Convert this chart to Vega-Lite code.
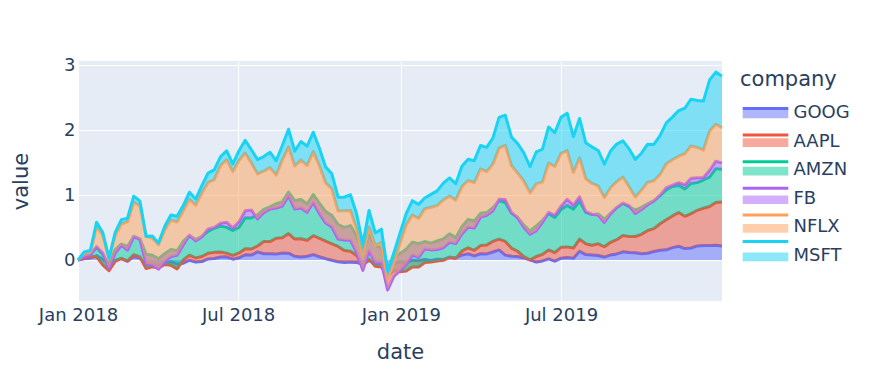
{
"$schema":"https://vega.github.io/schema/vega-lite/v6.json",
"width":644,"height":240,
"autosize":{"type":"none"},
"padding":{"left":78,"top":61,"right":168,"bottom":85},
"background":"white",
"data":{"values":[
{"date":"2018-01-01","company":"GOOG","value":0},{"date":"2018-01-01","company":"AAPL","value":0},{"date":"2018-01-01","company":"AMZN","value":0},{"date":"2018-01-01","company":"FB","value":0},{"date":"2018-01-01","company":"NFLX","value":0},{"date":"2018-01-01","company":"MSFT","value":0},
{"date":"2018-01-08","company":"GOOG","value":0.018},{"date":"2018-01-08","company":"AAPL","value":0.012},{"date":"2018-01-08","company":"AMZN","value":0.062},{"date":"2018-01-08","company":"FB","value":-0.04},{"date":"2018-01-08","company":"NFLX","value":0.054},{"date":"2018-01-08","company":"MSFT","value":0.016},
{"date":"2018-01-15","company":"GOOG","value":0.032},{"date":"2018-01-15","company":"AAPL","value":0.02},{"date":"2018-01-15","company":"AMZN","value":0.053},{"date":"2018-01-15","company":"FB","value":-0.03},{"date":"2018-01-15","company":"NFLX","value":0.05},{"date":"2018-01-15","company":"MSFT","value":0.021},
{"date":"2018-01-22","company":"GOOG","value":0.067},{"date":"2018-01-22","company":"AAPL","value":-0.02},{"date":"2018-01-22","company":"AMZN","value":0.141},{"date":"2018-01-22","company":"FB","value":0.017},{"date":"2018-01-22","company":"NFLX","value":0.308},{"date":"2018-01-22","company":"MSFT","value":0.067},
{"date":"2018-01-29","company":"GOOG","value":0.009},{"date":"2018-01-29","company":"AAPL","value":-0.083},{"date":"2018-01-29","company":"AMZN","value":0.163},{"date":"2018-01-29","company":"FB","value":0.018},{"date":"2018-01-29","company":"NFLX","value":0.274},{"date":"2018-01-29","company":"MSFT","value":0.041},
{"date":"2018-02-05","company":"GOOG","value":-0.058},{"date":"2018-02-05","company":"AAPL","value":-0.106},{"date":"2018-02-05","company":"AMZN","value":0.09},{"date":"2018-02-05","company":"FB","value":-0.057},{"date":"2018-02-05","company":"NFLX","value":0.157},{"date":"2018-02-05","company":"MSFT","value":0},
{"date":"2018-02-12","company":"GOOG","value":-0.007},{"date":"2018-02-12","company":"AAPL","value":-0.015},{"date":"2018-02-12","company":"AMZN","value":0.179},{"date":"2018-02-12","company":"FB","value":-0.051},{"date":"2018-02-12","company":"NFLX","value":0.27},{"date":"2018-02-12","company":"MSFT","value":0.043},
{"date":"2018-02-19","company":"GOOG","value":0.022},{"date":"2018-02-19","company":"AAPL","value":0.003},{"date":"2018-02-19","company":"AMZN","value":0.22},{"date":"2018-02-19","company":"FB","value":-0.019},{"date":"2018-02-19","company":"NFLX","value":0.327},{"date":"2018-02-19","company":"MSFT","value":0.067},
{"date":"2018-02-26","company":"GOOG","value":-0.021},{"date":"2018-02-26","company":"AAPL","value":0.007},{"date":"2018-02-26","company":"AMZN","value":0.221},{"date":"2018-02-26","company":"FB","value":-0.055},{"date":"2018-02-26","company":"NFLX","value":0.434},{"date":"2018-02-26","company":"MSFT","value":0.055},
{"date":"2018-03-05","company":"GOOG","value":0.052},{"date":"2018-03-05","company":"AAPL","value":0.028},{"date":"2018-03-05","company":"AMZN","value":0.285},{"date":"2018-03-05","company":"FB","value":-0.009},{"date":"2018-03-05","company":"NFLX","value":0.529},{"date":"2018-03-05","company":"MSFT","value":0.095},
{"date":"2018-03-12","company":"GOOG","value":0.029},{"date":"2018-03-12","company":"AAPL","value":0.017},{"date":"2018-03-12","company":"AMZN","value":0.279},{"date":"2018-03-12","company":"FB","value":-0.009},{"date":"2018-03-12","company":"NFLX","value":0.517},{"date":"2018-03-12","company":"MSFT","value":0.073},
{"date":"2018-03-19","company":"GOOG","value":-0.073},{"date":"2018-03-19","company":"AAPL","value":-0.057},{"date":"2018-03-19","company":"AMZN","value":0.217},{"date":"2018-03-19","company":"FB","value":-0.147},{"date":"2018-03-19","company":"NFLX","value":0.432},{"date":"2018-03-19","company":"MSFT","value":-0.011},
{"date":"2018-03-26","company":"GOOG","value":-0.064},{"date":"2018-03-26","company":"AAPL","value":-0.041},{"date":"2018-03-26","company":"AMZN","value":0.178},{"date":"2018-03-26","company":"FB","value":-0.145},{"date":"2018-03-26","company":"NFLX","value":0.406},{"date":"2018-03-26","company":"MSFT","value":0.035},
{"date":"2018-04-02","company":"GOOG","value":-0.086},{"date":"2018-04-02","company":"AAPL","value":-0.038},{"date":"2018-04-02","company":"AMZN","value":0.143},{"date":"2018-04-02","company":"FB","value":-0.159},{"date":"2018-04-02","company":"NFLX","value":0.376},{"date":"2018-04-02","company":"MSFT","value":0.023},
{"date":"2018-04-09","company":"GOOG","value":-0.066},{"date":"2018-04-09","company":"AAPL","value":-0.002},{"date":"2018-04-09","company":"AMZN","value":0.164},{"date":"2018-04-09","company":"FB","value":-0.12},{"date":"2018-04-09","company":"NFLX","value":0.484},{"date":"2018-04-09","company":"MSFT","value":0.055},
{"date":"2018-04-16","company":"GOOG","value":-0.027},{"date":"2018-04-16","company":"AAPL","value":-0.053},{"date":"2018-04-16","company":"AMZN","value":0.243},{"date":"2018-04-16","company":"FB","value":-0.11},{"date":"2018-04-16","company":"NFLX","value":0.561},{"date":"2018-04-16","company":"MSFT","value":0.077},
{"date":"2018-04-23","company":"GOOG","value":-0.065},{"date":"2018-04-23","company":"AAPL","value":-0.072},{"date":"2018-04-23","company":"AMZN","value":0.279},{"date":"2018-04-23","company":"FB","value":-0.068},{"date":"2018-04-23","company":"NFLX","value":0.51},{"date":"2018-04-23","company":"MSFT","value":0.087},
{"date":"2018-04-30","company":"GOOG","value":-0.049},{"date":"2018-04-30","company":"AAPL","value":0.05},{"date":"2018-04-30","company":"AMZN","value":0.286},{"date":"2018-04-30","company":"FB","value":-0.055},{"date":"2018-04-30","company":"NFLX","value":0.524},{"date":"2018-04-30","company":"MSFT","value":0.079},
{"date":"2018-05-07","company":"GOOG","value":-0.004},{"date":"2018-05-07","company":"AAPL","value":0.078},{"date":"2018-05-07","company":"AMZN","value":0.304},{"date":"2018-05-07","company":"FB","value":0.001},{"date":"2018-05-07","company":"NFLX","value":0.554},{"date":"2018-05-07","company":"MSFT","value":0.108},
{"date":"2018-05-14","company":"GOOG","value":-0.033},{"date":"2018-05-14","company":"AAPL","value":0.065},{"date":"2018-05-14","company":"AMZN","value":0.281},{"date":"2018-05-14","company":"FB","value":-0.02},{"date":"2018-05-14","company":"NFLX","value":0.549},{"date":"2018-05-14","company":"MSFT","value":0.093},
{"date":"2018-05-21","company":"GOOG","value":-0.024},{"date":"2018-05-21","company":"AAPL","value":0.078},{"date":"2018-05-21","company":"AMZN","value":0.31},{"date":"2018-05-21","company":"FB","value":-0.01},{"date":"2018-05-21","company":"NFLX","value":0.673},{"date":"2018-05-21","company":"MSFT","value":0.115},
{"date":"2018-05-28","company":"GOOG","value":0.016},{"date":"2018-05-28","company":"AAPL","value":0.087},{"date":"2018-05-28","company":"AMZN","value":0.336},{"date":"2018-05-28","company":"FB","value":0.038},{"date":"2018-05-28","company":"NFLX","value":0.714},{"date":"2018-05-28","company":"MSFT","value":0.143},
{"date":"2018-06-04","company":"GOOG","value":0.022},{"date":"2018-06-04","company":"AAPL","value":0.095},{"date":"2018-06-04","company":"AMZN","value":0.37},{"date":"2018-06-04","company":"FB","value":0.012},{"date":"2018-06-04","company":"NFLX","value":0.733},{"date":"2018-06-04","company":"MSFT","value":0.152},
{"date":"2018-06-11","company":"GOOG","value":0.045},{"date":"2018-06-11","company":"AAPL","value":0.079},{"date":"2018-06-11","company":"AMZN","value":0.396},{"date":"2018-06-11","company":"FB","value":0.044},{"date":"2018-06-11","company":"NFLX","value":0.885},{"date":"2018-06-11","company":"MSFT","value":0.135},
{"date":"2018-06-18","company":"GOOG","value":0.048},{"date":"2018-06-18","company":"AAPL","value":0.057},{"date":"2018-06-18","company":"AMZN","value":0.396},{"date":"2018-06-18","company":"FB","value":0.08},{"date":"2018-06-18","company":"NFLX","value":0.958},{"date":"2018-06-18","company":"MSFT","value":0.139},
{"date":"2018-06-25","company":"GOOG","value":0.012},{"date":"2018-06-25","company":"AAPL","value":0.058},{"date":"2018-06-25","company":"AMZN","value":0.383},{"date":"2018-06-25","company":"FB","value":0.04},{"date":"2018-06-25","company":"NFLX","value":0.864},{"date":"2018-06-25","company":"MSFT","value":0.118},
{"date":"2018-07-02","company":"GOOG","value":0.034},{"date":"2018-07-02","company":"AAPL","value":0.074},{"date":"2018-07-02","company":"AMZN","value":0.392},{"date":"2018-07-02","company":"FB","value":0.088},{"date":"2018-07-02","company":"NFLX","value":0.944},{"date":"2018-07-02","company":"MSFT","value":0.147},
{"date":"2018-07-09","company":"GOOG","value":0.079},{"date":"2018-07-09","company":"AAPL","value":0.093},{"date":"2018-07-09","company":"AMZN","value":0.475},{"date":"2018-07-09","company":"FB","value":0.11},{"date":"2018-07-09","company":"NFLX","value":0.885},{"date":"2018-07-09","company":"MSFT","value":0.195},
{"date":"2018-07-16","company":"GOOG","value":0.075},{"date":"2018-07-16","company":"AAPL","value":0.094},{"date":"2018-07-16","company":"AMZN","value":0.476},{"date":"2018-07-16","company":"FB","value":0.124},{"date":"2018-07-16","company":"NFLX","value":0.719},{"date":"2018-07-16","company":"MSFT","value":0.205},
{"date":"2018-07-23","company":"GOOG","value":0.124},{"date":"2018-07-23","company":"AAPL","value":0.091},{"date":"2018-07-23","company":"AMZN","value":0.478},{"date":"2018-07-23","company":"FB","value":-0.064},{"date":"2018-07-23","company":"NFLX","value":0.692},{"date":"2018-07-23","company":"MSFT","value":0.221},
{"date":"2018-07-30","company":"GOOG","value":0.096},{"date":"2018-07-30","company":"AAPL","value":0.189},{"date":"2018-07-30","company":"AMZN","value":0.492},{"date":"2018-07-30","company":"FB","value":-0.049},{"date":"2018-07-30","company":"NFLX","value":0.635},{"date":"2018-07-30","company":"MSFT","value":0.225},
{"date":"2018-08-06","company":"GOOG","value":0.096},{"date":"2018-08-06","company":"AAPL","value":0.186},{"date":"2018-08-06","company":"AMZN","value":0.535},{"date":"2018-08-06","company":"FB","value":-0.036},{"date":"2018-08-06","company":"NFLX","value":0.638},{"date":"2018-08-06","company":"MSFT","value":0.236},
{"date":"2018-08-13","company":"GOOG","value":0.09},{"date":"2018-08-13","company":"AAPL","value":0.243},{"date":"2018-08-13","company":"AMZN","value":0.531},{"date":"2018-08-13","company":"FB","value":-0.065},{"date":"2018-08-13","company":"NFLX","value":0.505},{"date":"2018-08-13","company":"MSFT","value":0.22},
{"date":"2018-08-20","company":"GOOG","value":0.108},{"date":"2018-08-20","company":"AAPL","value":0.235},{"date":"2018-08-20","company":"AMZN","value":0.55},{"date":"2018-08-20","company":"FB","value":-0.065},{"date":"2018-08-20","company":"NFLX","value":0.709},{"date":"2018-08-20","company":"MSFT","value":0.221},
{"date":"2018-08-27","company":"GOOG","value":0.105},{"date":"2018-08-27","company":"AAPL","value":0.301},{"date":"2018-08-27","company":"AMZN","value":0.637},{"date":"2018-08-27","company":"FB","value":-0.06},{"date":"2018-08-27","company":"NFLX","value":0.751},{"date":"2018-08-27","company":"MSFT","value":0.274},
{"date":"2018-09-03","company":"GOOG","value":0.057},{"date":"2018-09-03","company":"AAPL","value":0.265},{"date":"2018-09-03","company":"AMZN","value":0.588},{"date":"2018-09-03","company":"FB","value":-0.127},{"date":"2018-09-03","company":"NFLX","value":0.66},{"date":"2018-09-03","company":"MSFT","value":0.227},
{"date":"2018-09-10","company":"GOOG","value":0.047},{"date":"2018-09-10","company":"AAPL","value":0.279},{"date":"2018-09-10","company":"AMZN","value":0.603},{"date":"2018-09-10","company":"FB","value":-0.131},{"date":"2018-09-10","company":"NFLX","value":0.736},{"date":"2018-09-10","company":"MSFT","value":0.286},
{"date":"2018-09-17","company":"GOOG","value":0.058},{"date":"2018-09-17","company":"AAPL","value":0.244},{"date":"2018-09-17","company":"AMZN","value":0.558},{"date":"2018-09-17","company":"FB","value":-0.128},{"date":"2018-09-17","company":"NFLX","value":0.72},{"date":"2018-09-17","company":"MSFT","value":0.296},
{"date":"2018-09-24","company":"GOOG","value":0.083},{"date":"2018-09-24","company":"AAPL","value":0.29},{"date":"2018-09-24","company":"AMZN","value":0.63},{"date":"2018-09-24","company":"FB","value":-0.12},{"date":"2018-09-24","company":"NFLX","value":0.782},{"date":"2018-09-24","company":"MSFT","value":0.297},
{"date":"2018-10-01","company":"GOOG","value":0.05},{"date":"2018-10-01","company":"AAPL","value":0.282},{"date":"2018-10-01","company":"AMZN","value":0.537},{"date":"2018-10-01","company":"FB","value":-0.158},{"date":"2018-10-01","company":"NFLX","value":0.731},{"date":"2018-10-01","company":"MSFT","value":0.271},
{"date":"2018-10-08","company":"GOOG","value":0.02},{"date":"2018-10-08","company":"AAPL","value":0.269},{"date":"2018-10-08","company":"AMZN","value":0.455},{"date":"2018-10-08","company":"FB","value":-0.177},{"date":"2018-10-08","company":"NFLX","value":0.617},{"date":"2018-10-08","company":"MSFT","value":0.242},
{"date":"2018-10-15","company":"GOOG","value":-0.005},{"date":"2018-10-15","company":"AAPL","value":0.253},{"date":"2018-10-15","company":"AMZN","value":0.435},{"date":"2018-10-15","company":"FB","value":-0.176},{"date":"2018-10-15","company":"NFLX","value":0.584},{"date":"2018-10-15","company":"MSFT","value":0.232},
{"date":"2018-10-22","company":"GOOG","value":-0.028},{"date":"2018-10-22","company":"AAPL","value":0.236},{"date":"2018-10-22","company":"AMZN","value":0.337},{"date":"2018-10-22","company":"FB","value":-0.222},{"date":"2018-10-22","company":"NFLX","value":0.428},{"date":"2018-10-22","company":"MSFT","value":0.213},
{"date":"2018-10-29","company":"GOOG","value":-0.04},{"date":"2018-10-29","company":"AAPL","value":0.186},{"date":"2018-10-29","company":"AMZN","value":0.355},{"date":"2018-10-29","company":"FB","value":-0.195},{"date":"2018-10-29","company":"NFLX","value":0.45},{"date":"2018-10-29","company":"MSFT","value":0.208},
{"date":"2018-11-05","company":"GOOG","value":-0.033},{"date":"2018-11-05","company":"AAPL","value":0.168},{"date":"2018-11-05","company":"AMZN","value":0.393},{"date":"2018-11-05","company":"FB","value":-0.224},{"date":"2018-11-05","company":"NFLX","value":0.456},{"date":"2018-11-05","company":"MSFT","value":0.242},
{"date":"2018-11-12","company":"GOOG","value":-0.037},{"date":"2018-11-12","company":"AAPL","value":0.106},{"date":"2018-11-12","company":"AMZN","value":0.296},{"date":"2018-11-12","company":"FB","value":-0.253},{"date":"2018-11-12","company":"NFLX","value":0.365},{"date":"2018-11-12","company":"MSFT","value":0.228},
{"date":"2018-11-19","company":"GOOG","value":-0.071},{"date":"2018-11-19","company":"AAPL","value":-0.015},{"date":"2018-11-19","company":"AMZN","value":0.222},{"date":"2018-11-19","company":"FB","value":-0.295},{"date":"2018-11-19","company":"NFLX","value":0.233},{"date":"2018-11-19","company":"MSFT","value":0.169},
{"date":"2018-11-26","company":"GOOG","value":-0.007},{"date":"2018-11-26","company":"AAPL","value":0.02},{"date":"2018-11-26","company":"AMZN","value":0.375},{"date":"2018-11-26","company":"FB","value":-0.247},{"date":"2018-11-26","company":"NFLX","value":0.363},{"date":"2018-11-26","company":"MSFT","value":0.257},
{"date":"2018-12-03","company":"GOOG","value":-0.06},{"date":"2018-12-03","company":"AAPL","value":-0.037},{"date":"2018-12-03","company":"AMZN","value":0.325},{"date":"2018-12-03","company":"FB","value":-0.265},{"date":"2018-12-03","company":"NFLX","value":0.263},{"date":"2018-12-03","company":"MSFT","value":0.189},
{"date":"2018-12-10","company":"GOOG","value":-0.055},{"date":"2018-12-10","company":"AAPL","value":-0.054},{"date":"2018-12-10","company":"AMZN","value":0.295},{"date":"2018-12-10","company":"FB","value":-0.229},{"date":"2018-12-10","company":"NFLX","value":0.314},{"date":"2018-12-10","company":"MSFT","value":0.202},
{"date":"2018-12-17","company":"GOOG","value":-0.111},{"date":"2018-12-17","company":"AAPL","value":-0.139},{"date":"2018-12-17","company":"AMZN","value":0.121},{"date":"2018-12-17","company":"FB","value":-0.331},{"date":"2018-12-17","company":"NFLX","value":0.173},{"date":"2018-12-17","company":"MSFT","value":0.114},
{"date":"2018-12-24","company":"GOOG","value":-0.059},{"date":"2018-12-24","company":"AAPL","value":-0.107},{"date":"2018-12-24","company":"AMZN","value":0.202},{"date":"2018-12-24","company":"FB","value":-0.287},{"date":"2018-12-24","company":"NFLX","value":0.219},{"date":"2018-12-24","company":"MSFT","value":0.138},
{"date":"2018-12-31","company":"GOOG","value":-0.029},{"date":"2018-12-31","company":"AAPL","value":-0.153},{"date":"2018-12-31","company":"AMZN","value":0.282},{"date":"2018-12-31","company":"FB","value":-0.261},{"date":"2018-12-31","company":"NFLX","value":0.417},{"date":"2018-12-31","company":"MSFT","value":0.156},
{"date":"2019-01-07","company":"GOOG","value":-0.041},{"date":"2019-01-07","company":"AAPL","value":-0.13},{"date":"2019-01-07","company":"AMZN","value":0.335},{"date":"2019-01-07","company":"FB","value":-0.228},{"date":"2019-01-07","company":"NFLX","value":0.608},{"date":"2019-01-07","company":"MSFT","value":0.166},
{"date":"2019-01-14","company":"GOOG","value":-0.004},{"date":"2019-01-14","company":"AAPL","value":-0.104},{"date":"2019-01-14","company":"AMZN","value":0.38},{"date":"2019-01-14","company":"FB","value":-0.197},{"date":"2019-01-14","company":"NFLX","value":0.615},{"date":"2019-01-14","company":"MSFT","value":0.221},
{"date":"2019-01-21","company":"GOOG","value":-0.01},{"date":"2019-01-21","company":"AAPL","value":-0.099},{"date":"2019-01-21","company":"AMZN","value":0.359},{"date":"2019-01-21","company":"FB","value":-0.211},{"date":"2019-01-21","company":"NFLX","value":0.6},{"date":"2019-01-21","company":"MSFT","value":0.215},
{"date":"2019-01-28","company":"GOOG","value":0.008},{"date":"2019-01-28","company":"AAPL","value":-0.048},{"date":"2019-01-28","company":"AMZN","value":0.323},{"date":"2019-01-28","company":"FB","value":-0.113},{"date":"2019-01-28","company":"NFLX","value":0.618},{"date":"2019-01-28","company":"MSFT","value":0.165},
{"date":"2019-02-04","company":"GOOG","value":-0.007},{"date":"2019-02-04","company":"AAPL","value":-0.026},{"date":"2019-02-04","company":"AMZN","value":0.292},{"date":"2019-02-04","company":"FB","value":-0.104},{"date":"2019-02-04","company":"NFLX","value":0.655},{"date":"2019-02-04","company":"MSFT","value":0.198},
{"date":"2019-02-11","company":"GOOG","value":0.01},{"date":"2019-02-11","company":"AAPL","value":-0.026},{"date":"2019-02-11","company":"AMZN","value":0.308},{"date":"2019-02-11","company":"FB","value":-0.13},{"date":"2019-02-11","company":"NFLX","value":0.673},{"date":"2019-02-11","company":"MSFT","value":0.227},
{"date":"2019-02-18","company":"GOOG","value":0.007},{"date":"2019-02-18","company":"AAPL","value":-0.012},{"date":"2019-02-18","company":"AMZN","value":0.327},{"date":"2019-02-18","company":"FB","value":-0.134},{"date":"2019-02-18","company":"NFLX","value":0.734},{"date":"2019-02-18","company":"MSFT","value":0.258},
{"date":"2019-02-25","company":"GOOG","value":0.042},{"date":"2019-02-25","company":"AAPL","value":0},{"date":"2019-02-25","company":"AMZN","value":0.36},{"date":"2019-02-25","company":"FB","value":-0.131},{"date":"2019-02-25","company":"NFLX","value":0.713},{"date":"2019-02-25","company":"MSFT","value":0.276},
{"date":"2019-03-04","company":"GOOG","value":0.036},{"date":"2019-03-04","company":"AAPL","value":-0.012},{"date":"2019-03-04","company":"AMZN","value":0.319},{"date":"2019-03-04","company":"FB","value":-0.092},{"date":"2019-03-04","company":"NFLX","value":0.668},{"date":"2019-03-04","company":"MSFT","value":0.253},
{"date":"2019-03-11","company":"GOOG","value":0.075},{"date":"2019-03-11","company":"AAPL","value":0.064},{"date":"2019-03-11","company":"AMZN","value":0.372},{"date":"2019-03-11","company":"FB","value":-0.112},{"date":"2019-03-11","company":"NFLX","value":0.727},{"date":"2019-03-11","company":"MSFT","value":0.314},
{"date":"2019-03-18","company":"GOOG","value":0.094},{"date":"2019-03-18","company":"AAPL","value":0.092},{"date":"2019-03-18","company":"AMZN","value":0.436},{"date":"2019-03-18","company":"FB","value":-0.12},{"date":"2019-03-18","company":"NFLX","value":0.719},{"date":"2019-03-18","company":"MSFT","value":0.327},
{"date":"2019-03-25","company":"GOOG","value":0.064},{"date":"2019-03-25","company":"AAPL","value":0.085},{"date":"2019-03-25","company":"AMZN","value":0.449},{"date":"2019-03-25","company":"FB","value":-0.108},{"date":"2019-03-25","company":"NFLX","value":0.698},{"date":"2019-03-25","company":"MSFT","value":0.337},
{"date":"2019-04-01","company":"GOOG","value":0.095},{"date":"2019-04-01","company":"AAPL","value":0.126},{"date":"2019-04-01","company":"AMZN","value":0.495},{"date":"2019-04-01","company":"FB","value":-0.058},{"date":"2019-04-01","company":"NFLX","value":0.741},{"date":"2019-04-01","company":"MSFT","value":0.359},
{"date":"2019-04-08","company":"GOOG","value":0.093},{"date":"2019-04-08","company":"AAPL","value":0.136},{"date":"2019-04-08","company":"AMZN","value":0.499},{"date":"2019-04-08","company":"FB","value":-0.041},{"date":"2019-04-08","company":"NFLX","value":0.672},{"date":"2019-04-08","company":"MSFT","value":0.371},
{"date":"2019-04-15","company":"GOOG","value":0.122},{"date":"2019-04-15","company":"AAPL","value":0.165},{"date":"2019-04-15","company":"AMZN","value":0.515},{"date":"2019-04-15","company":"FB","value":-0.046},{"date":"2019-04-15","company":"NFLX","value":0.716},{"date":"2019-04-15","company":"MSFT","value":0.399},
{"date":"2019-04-22","company":"GOOG","value":0.154},{"date":"2019-04-22","company":"AAPL","value":0.167},{"date":"2019-04-22","company":"AMZN","value":0.587},{"date":"2019-04-22","company":"FB","value":0.025},{"date":"2019-04-22","company":"NFLX","value":0.785},{"date":"2019-04-22","company":"MSFT","value":0.473},
{"date":"2019-04-29","company":"GOOG","value":0.075},{"date":"2019-04-29","company":"AAPL","value":0.21},{"date":"2019-04-29","company":"AMZN","value":0.597},{"date":"2019-04-29","company":"FB","value":0.046},{"date":"2019-04-29","company":"NFLX","value":0.834},{"date":"2019-04-29","company":"MSFT","value":0.462},
{"date":"2019-05-06","company":"GOOG","value":0.056},{"date":"2019-05-06","company":"AAPL","value":0.127},{"date":"2019-05-06","company":"AMZN","value":0.538},{"date":"2019-05-06","company":"FB","value":0.008},{"date":"2019-05-06","company":"NFLX","value":0.719},{"date":"2019-05-06","company":"MSFT","value":0.442},
{"date":"2019-05-13","company":"GOOG","value":0.054},{"date":"2019-05-13","company":"AAPL","value":0.08},{"date":"2019-05-13","company":"AMZN","value":0.521},{"date":"2019-05-13","company":"FB","value":-0.008},{"date":"2019-05-13","company":"NFLX","value":0.688},{"date":"2019-05-13","company":"MSFT","value":0.452},
{"date":"2019-05-20","company":"GOOG","value":0.028},{"date":"2019-05-20","company":"AAPL","value":0.023},{"date":"2019-05-20","company":"AMZN","value":0.483},{"date":"2019-05-20","company":"FB","value":-0.031},{"date":"2019-05-20","company":"NFLX","value":0.71},{"date":"2019-05-20","company":"MSFT","value":0.431},
{"date":"2019-05-27","company":"GOOG","value":0.001},{"date":"2019-05-27","company":"AAPL","value":0},{"date":"2019-05-27","company":"AMZN","value":0.444},{"date":"2019-05-27","company":"FB","value":-0.05},{"date":"2019-05-27","company":"NFLX","value":0.635},{"date":"2019-05-27","company":"MSFT","value":0.402},
{"date":"2019-06-03","company":"GOOG","value":-0.033},{"date":"2019-06-03","company":"AAPL","value":0.087},{"date":"2019-06-03","company":"AMZN","value":0.468},{"date":"2019-06-03","company":"FB","value":-0.072},{"date":"2019-06-03","company":"NFLX","value":0.719},{"date":"2019-06-03","company":"MSFT","value":0.49},
{"date":"2019-06-10","company":"GOOG","value":-0.015},{"date":"2019-06-10","company":"AAPL","value":0.101},{"date":"2019-06-10","company":"AMZN","value":0.522},{"date":"2019-06-10","company":"FB","value":-0.03},{"date":"2019-06-10","company":"NFLX","value":0.618},{"date":"2019-06-10","company":"MSFT","value":0.502},
{"date":"2019-06-17","company":"GOOG","value":0.018},{"date":"2019-06-17","company":"AAPL","value":0.136},{"date":"2019-06-17","company":"AMZN","value":0.555},{"date":"2019-06-17","company":"FB","value":0.023},{"date":"2019-06-17","company":"NFLX","value":0.758},{"date":"2019-06-17","company":"MSFT","value":0.553},
{"date":"2019-06-24","company":"GOOG","value":-0.019},{"date":"2019-06-24","company":"AAPL","value":0.131},{"date":"2019-06-24","company":"AMZN","value":0.541},{"date":"2019-06-24","company":"FB","value":0.033},{"date":"2019-06-24","company":"NFLX","value":0.749},{"date":"2019-06-24","company":"MSFT","value":0.519},
{"date":"2019-07-01","company":"GOOG","value":0.027},{"date":"2019-07-01","company":"AAPL","value":0.167},{"date":"2019-07-01","company":"AMZN","value":0.581},{"date":"2019-07-01","company":"FB","value":0.051},{"date":"2019-07-01","company":"NFLX","value":0.812},{"date":"2019-07-01","company":"MSFT","value":0.554},
{"date":"2019-07-08","company":"GOOG","value":0.039},{"date":"2019-07-08","company":"AAPL","value":0.162},{"date":"2019-07-08","company":"AMZN","value":0.636},{"date":"2019-07-08","company":"FB","value":0.096},{"date":"2019-07-08","company":"NFLX","value":0.746},{"date":"2019-07-08","company":"MSFT","value":0.575},
{"date":"2019-07-15","company":"GOOG","value":0.025},{"date":"2019-07-15","company":"AAPL","value":0.158},{"date":"2019-07-15","company":"AMZN","value":0.598},{"date":"2019-07-15","company":"FB","value":0.062},{"date":"2019-07-15","company":"NFLX","value":0.501},{"date":"2019-07-15","company":"MSFT","value":0.549},
{"date":"2019-07-22","company":"GOOG","value":0.134},{"date":"2019-07-22","company":"AAPL","value":0.187},{"date":"2019-07-22","company":"AMZN","value":0.581},{"date":"2019-07-22","company":"FB","value":0.069},{"date":"2019-07-22","company":"NFLX","value":0.599},{"date":"2019-07-22","company":"MSFT","value":0.603},
{"date":"2019-07-29","company":"GOOG","value":0.083},{"date":"2019-07-29","company":"AAPL","value":0.166},{"date":"2019-07-29","company":"AMZN","value":0.483},{"date":"2019-07-29","company":"FB","value":0.012},{"date":"2019-07-29","company":"NFLX","value":0.504},{"date":"2019-07-29","company":"MSFT","value":0.552},
{"date":"2019-08-05","company":"GOOG","value":0.078},{"date":"2019-08-05","company":"AAPL","value":0.149},{"date":"2019-08-05","company":"AMZN","value":0.471},{"date":"2019-08-05","company":"FB","value":0.005},{"date":"2019-08-05","company":"NFLX","value":0.472},{"date":"2019-08-05","company":"MSFT","value":0.562},
{"date":"2019-08-12","company":"GOOG","value":0.068},{"date":"2019-08-12","company":"AAPL","value":0.18},{"date":"2019-08-12","company":"AMZN","value":0.458},{"date":"2019-08-12","company":"FB","value":-0.017},{"date":"2019-08-12","company":"NFLX","value":0.449},{"date":"2019-08-12","company":"MSFT","value":0.544},
{"date":"2019-08-19","company":"GOOG","value":0.045},{"date":"2019-08-19","company":"AAPL","value":0.158},{"date":"2019-08-19","company":"AMZN","value":0.423},{"date":"2019-08-19","company":"FB","value":-0.049},{"date":"2019-08-19","company":"NFLX","value":0.383},{"date":"2019-08-19","company":"MSFT","value":0.513},
{"date":"2019-08-26","company":"GOOG","value":0.078},{"date":"2019-08-26","company":"AAPL","value":0.193},{"date":"2019-08-26","company":"AMZN","value":0.445},{"date":"2019-08-26","company":"FB","value":-0.006},{"date":"2019-08-26","company":"NFLX","value":0.399},{"date":"2019-08-26","company":"MSFT","value":0.563},
{"date":"2019-09-02","company":"GOOG","value":0.093},{"date":"2019-09-02","company":"AAPL","value":0.219},{"date":"2019-09-02","company":"AMZN","value":0.492},{"date":"2019-09-02","company":"FB","value":0.003},{"date":"2019-09-02","company":"NFLX","value":0.396},{"date":"2019-09-02","company":"MSFT","value":0.577},
{"date":"2019-09-09","company":"GOOG","value":0.125},{"date":"2019-09-09","company":"AAPL","value":0.25},{"date":"2019-09-09","company":"AMZN","value":0.496},{"date":"2019-09-09","company":"FB","value":0.002},{"date":"2019-09-09","company":"NFLX","value":0.4},{"date":"2019-09-09","company":"MSFT","value":0.557},
{"date":"2019-09-16","company":"GOOG","value":0.116},{"date":"2019-09-16","company":"AAPL","value":0.244},{"date":"2019-09-16","company":"AMZN","value":0.46},{"date":"2019-09-16","company":"FB","value":0.016},{"date":"2019-09-16","company":"NFLX","value":0.289},{"date":"2019-09-16","company":"MSFT","value":0.581},
{"date":"2019-09-23","company":"GOOG","value":0.111},{"date":"2019-09-23","company":"AAPL","value":0.25},{"date":"2019-09-23","company":"AMZN","value":0.404},{"date":"2019-09-23","company":"FB","value":-0.052},{"date":"2019-09-23","company":"NFLX","value":0.253},{"date":"2019-09-23","company":"MSFT","value":0.579},
{"date":"2019-09-30","company":"GOOG","value":0.097},{"date":"2019-09-30","company":"AAPL","value":0.297},{"date":"2019-09-30","company":"AMZN","value":0.415},{"date":"2019-09-30","company":"FB","value":-0.034},{"date":"2019-09-30","company":"NFLX","value":0.299},{"date":"2019-09-30","company":"MSFT","value":0.566},
{"date":"2019-10-07","company":"GOOG","value":0.103},{"date":"2019-10-07","company":"AAPL","value":0.35},{"date":"2019-10-07","company":"AMZN","value":0.409},{"date":"2019-10-07","company":"FB","value":-0.014},{"date":"2019-10-07","company":"NFLX","value":0.347},{"date":"2019-10-07","company":"MSFT","value":0.584},
{"date":"2019-10-14","company":"GOOG","value":0.13},{"date":"2019-10-14","company":"AAPL","value":0.351},{"date":"2019-10-14","company":"AMZN","value":0.43},{"date":"2019-10-14","company":"FB","value":-0.005},{"date":"2019-10-14","company":"NFLX","value":0.311},{"date":"2019-10-14","company":"MSFT","value":0.558},
{"date":"2019-10-21","company":"GOOG","value":0.148},{"date":"2019-10-21","company":"AAPL","value":0.409},{"date":"2019-10-21","company":"AMZN","value":0.433},{"date":"2019-10-21","company":"FB","value":0.006},{"date":"2019-10-21","company":"NFLX","value":0.318},{"date":"2019-10-21","company":"MSFT","value":0.596},
{"date":"2019-10-28","company":"GOOG","value":0.156},{"date":"2019-10-28","company":"AAPL","value":0.462},{"date":"2019-10-28","company":"AMZN","value":0.457},{"date":"2019-10-28","company":"FB","value":0.036},{"date":"2019-10-28","company":"NFLX","value":0.366},{"date":"2019-10-28","company":"MSFT","value":0.63},
{"date":"2019-11-04","company":"GOOG","value":0.19},{"date":"2019-11-04","company":"AAPL","value":0.487},{"date":"2019-11-04","company":"AMZN","value":0.453},{"date":"2019-11-04","company":"FB","value":0.021},{"date":"2019-11-04","company":"NFLX","value":0.388},{"date":"2019-11-04","company":"MSFT","value":0.655},
{"date":"2019-11-11","company":"GOOG","value":0.211},{"date":"2019-11-11","company":"AAPL","value":0.519},{"date":"2019-11-11","company":"AMZN","value":0.415},{"date":"2019-11-11","company":"FB","value":0.044},{"date":"2019-11-11","company":"NFLX","value":0.405},{"date":"2019-11-11","company":"MSFT","value":0.701},
{"date":"2019-11-18","company":"GOOG","value":0.175},{"date":"2019-11-18","company":"AAPL","value":0.496},{"date":"2019-11-18","company":"AMZN","value":0.42},{"date":"2019-11-18","company":"FB","value":0.064},{"date":"2019-11-18","company":"NFLX","value":0.479},{"date":"2019-11-18","company":"MSFT","value":0.696},
{"date":"2019-11-25","company":"GOOG","value":0.184},{"date":"2019-11-25","company":"AAPL","value":0.527},{"date":"2019-11-25","company":"AMZN","value":0.465},{"date":"2019-11-25","company":"FB","value":0.079},{"date":"2019-11-25","company":"NFLX","value":0.498},{"date":"2019-11-25","company":"MSFT","value":0.717},
{"date":"2019-12-02","company":"GOOG","value":0.216},{"date":"2019-12-02","company":"AAPL","value":0.547},{"date":"2019-12-02","company":"AMZN","value":0.425},{"date":"2019-12-02","company":"FB","value":0.076},{"date":"2019-12-02","company":"NFLX","value":0.464},{"date":"2019-12-02","company":"MSFT","value":0.721},
{"date":"2019-12-09","company":"GOOG","value":0.223},{"date":"2019-12-09","company":"AAPL","value":0.572},{"date":"2019-12-09","company":"AMZN","value":0.433},{"date":"2019-12-09","company":"FB","value":0.039},{"date":"2019-12-09","company":"NFLX","value":0.421},{"date":"2019-12-09","company":"MSFT","value":0.752},
{"date":"2019-12-16","company":"GOOG","value":0.224},{"date":"2019-12-16","company":"AAPL","value":0.597},{"date":"2019-12-16","company":"AMZN","value":0.453},{"date":"2019-12-16","company":"FB","value":0.104},{"date":"2019-12-16","company":"NFLX","value":0.604},{"date":"2019-12-16","company":"MSFT","value":0.785},
{"date":"2019-12-23","company":"GOOG","value":0.226},{"date":"2019-12-23","company":"AAPL","value":0.656},{"date":"2019-12-23","company":"AMZN","value":0.521},{"date":"2019-12-23","company":"FB","value":0.114},{"date":"2019-12-23","company":"NFLX","value":0.567},{"date":"2019-12-23","company":"MSFT","value":0.802},
{"date":"2019-12-30","company":"GOOG","value":0.213},{"date":"2019-12-30","company":"AAPL","value":0.678},{"date":"2019-12-30","company":"AMZN","value":0.503},{"date":"2019-12-30","company":"FB","value":0.098},{"date":"2019-12-30","company":"NFLX","value":0.541},{"date":"2019-12-30","company":"MSFT","value":0.788}
]},
"transform":[
{"calculate":"indexof(['GOOG','AAPL','AMZN','FB','NFLX','MSFT'], datum.company)","as":"rank"},
{"window":[{"op":"sum","field":"value","as":"cum"}],"groupby":["date"],"sort":[{"field":"rank","order":"ascending"}],"frame":[null,0]},
{"calculate":"datum.cum - datum.value","as":"base"}
],
"encoding":{
"x":{"field":"date","type":"temporal","scale":{"type":"utc","domain":[{"year":2018,"month":1,"date":1,"utc":true},{"year":2019,"month":12,"date":30,"utc":true}]},
"axis":{"values":[{"year":2018,"month":1,"date":1,"utc":true},{"year":2018,"month":7,"date":1,"utc":true},{"year":2019,"month":1,"date":1,"utc":true},{"year":2019,"month":7,"date":1,"utc":true}],"format":"%b %Y","title":"date","labelFlush":false,"labelOverlap":false,"labelBound":false,"labelPadding":5,"titleX":322,"titleY":51,"titleBaseline":"middle","titleAlign":"center"}},
"y":{"field":"cum","type":"quantitative","scale":{"domain":[-0.63,3.056],"nice":false,"zero":false},
"axis":{"values":[0,1,2,3],"title":"value","labelPadding":3,"labelOffset":1,"titleX":-57,"titleY":120,"titleAngle":-90,"titleBaseline":"middle","titleAlign":"center"}}
},
"layer":[
{"transform":[{"filter":"datum.company==='GOOG'"}],"layer":[
{"mark":{"type":"area","fillOpacity":0.5,"strokeWidth":0},"encoding":{"y2":{"field":"base"},"fill":{"field":"company","type":"nominal","scale":{"domain":["GOOG","AAPL","AMZN","FB","NFLX","MSFT"],"range":["#636efa","#EF553B","#00cc96","#ab63fa","#FFA15A","#19d3f3"]},"legend":{"title":"company","orient":"none","legendX":662,"legendY":8,"values":["GOOG","AAPL","AMZN","FB","NFLX","MSFT"],"symbolType":"M-4.56,-0.68H4.56V1.06H-4.56Z","symbolOpacity":0.5,"symbolStrokeColor":"transparent"}}}},
{"mark":{"type":"line","strokeWidth":3,"strokeJoin":"round"},"encoding":{"stroke":{"field":"company","type":"nominal","scale":{"domain":["GOOG","AAPL","AMZN","FB","NFLX","MSFT","~"],"range":["#636efa","#EF553B","#00cc96","#ab63fa","#FFA15A","#19d3f3","#000000"]},"legend":{"title":" ","orient":"none","legendX":662,"legendY":8,"values":["GOOG","AAPL","AMZN","FB","NFLX","MSFT"],"labelExpr":"' '","symbolType":"M-4.56,-0.9H4.56","symbolOpacity":1}}}}
]},
{"transform":[{"filter":"datum.company==='AAPL'"}],"layer":[
{"mark":{"type":"area","fillOpacity":0.5,"strokeWidth":0},"encoding":{"y2":{"field":"base"},"fill":{"field":"company","type":"nominal","scale":{"domain":["GOOG","AAPL","AMZN","FB","NFLX","MSFT"],"range":["#636efa","#EF553B","#00cc96","#ab63fa","#FFA15A","#19d3f3"]},"legend":{"title":"company","orient":"none","legendX":662,"legendY":8,"values":["GOOG","AAPL","AMZN","FB","NFLX","MSFT"],"symbolType":"M-4.56,-0.68H4.56V1.06H-4.56Z","symbolOpacity":0.5,"symbolStrokeColor":"transparent"}}}},
{"mark":{"type":"line","strokeWidth":3,"strokeJoin":"round"},"encoding":{"stroke":{"field":"company","type":"nominal","scale":{"domain":["GOOG","AAPL","AMZN","FB","NFLX","MSFT","~"],"range":["#636efa","#EF553B","#00cc96","#ab63fa","#FFA15A","#19d3f3","#000000"]},"legend":{"title":" ","orient":"none","legendX":662,"legendY":8,"values":["GOOG","AAPL","AMZN","FB","NFLX","MSFT"],"labelExpr":"' '","symbolType":"M-4.56,-0.9H4.56","symbolOpacity":1}}}}
]},
{"transform":[{"filter":"datum.company==='AMZN'"}],"layer":[
{"mark":{"type":"area","fillOpacity":0.5,"strokeWidth":0},"encoding":{"y2":{"field":"base"},"fill":{"field":"company","type":"nominal","scale":{"domain":["GOOG","AAPL","AMZN","FB","NFLX","MSFT"],"range":["#636efa","#EF553B","#00cc96","#ab63fa","#FFA15A","#19d3f3"]},"legend":{"title":"company","orient":"none","legendX":662,"legendY":8,"values":["GOOG","AAPL","AMZN","FB","NFLX","MSFT"],"symbolType":"M-4.56,-0.68H4.56V1.06H-4.56Z","symbolOpacity":0.5,"symbolStrokeColor":"transparent"}}}},
{"mark":{"type":"line","strokeWidth":3,"strokeJoin":"round"},"encoding":{"stroke":{"field":"company","type":"nominal","scale":{"domain":["GOOG","AAPL","AMZN","FB","NFLX","MSFT","~"],"range":["#636efa","#EF553B","#00cc96","#ab63fa","#FFA15A","#19d3f3","#000000"]},"legend":{"title":" ","orient":"none","legendX":662,"legendY":8,"values":["GOOG","AAPL","AMZN","FB","NFLX","MSFT"],"labelExpr":"' '","symbolType":"M-4.56,-0.9H4.56","symbolOpacity":1}}}}
]},
{"transform":[{"filter":"datum.company==='FB'"}],"layer":[
{"mark":{"type":"area","fillOpacity":0.5,"strokeWidth":0},"encoding":{"y2":{"field":"base"},"fill":{"field":"company","type":"nominal","scale":{"domain":["GOOG","AAPL","AMZN","FB","NFLX","MSFT"],"range":["#636efa","#EF553B","#00cc96","#ab63fa","#FFA15A","#19d3f3"]},"legend":{"title":"company","orient":"none","legendX":662,"legendY":8,"values":["GOOG","AAPL","AMZN","FB","NFLX","MSFT"],"symbolType":"M-4.56,-0.68H4.56V1.06H-4.56Z","symbolOpacity":0.5,"symbolStrokeColor":"transparent"}}}},
{"mark":{"type":"line","strokeWidth":3,"strokeJoin":"round"},"encoding":{"stroke":{"field":"company","type":"nominal","scale":{"domain":["GOOG","AAPL","AMZN","FB","NFLX","MSFT","~"],"range":["#636efa","#EF553B","#00cc96","#ab63fa","#FFA15A","#19d3f3","#000000"]},"legend":{"title":" ","orient":"none","legendX":662,"legendY":8,"values":["GOOG","AAPL","AMZN","FB","NFLX","MSFT"],"labelExpr":"' '","symbolType":"M-4.56,-0.9H4.56","symbolOpacity":1}}}}
]},
{"transform":[{"filter":"datum.company==='NFLX'"}],"layer":[
{"mark":{"type":"area","fillOpacity":0.5,"strokeWidth":0},"encoding":{"y2":{"field":"base"},"fill":{"field":"company","type":"nominal","scale":{"domain":["GOOG","AAPL","AMZN","FB","NFLX","MSFT"],"range":["#636efa","#EF553B","#00cc96","#ab63fa","#FFA15A","#19d3f3"]},"legend":{"title":"company","orient":"none","legendX":662,"legendY":8,"values":["GOOG","AAPL","AMZN","FB","NFLX","MSFT"],"symbolType":"M-4.56,-0.68H4.56V1.06H-4.56Z","symbolOpacity":0.5,"symbolStrokeColor":"transparent"}}}},
{"mark":{"type":"line","strokeWidth":3,"strokeJoin":"round"},"encoding":{"stroke":{"field":"company","type":"nominal","scale":{"domain":["GOOG","AAPL","AMZN","FB","NFLX","MSFT","~"],"range":["#636efa","#EF553B","#00cc96","#ab63fa","#FFA15A","#19d3f3","#000000"]},"legend":{"title":" ","orient":"none","legendX":662,"legendY":8,"values":["GOOG","AAPL","AMZN","FB","NFLX","MSFT"],"labelExpr":"' '","symbolType":"M-4.56,-0.9H4.56","symbolOpacity":1}}}}
]},
{"transform":[{"filter":"datum.company==='MSFT'"}],"layer":[
{"mark":{"type":"area","fillOpacity":0.5,"strokeWidth":0},"encoding":{"y2":{"field":"base"},"fill":{"field":"company","type":"nominal","scale":{"domain":["GOOG","AAPL","AMZN","FB","NFLX","MSFT"],"range":["#636efa","#EF553B","#00cc96","#ab63fa","#FFA15A","#19d3f3"]},"legend":{"title":"company","orient":"none","legendX":662,"legendY":8,"values":["GOOG","AAPL","AMZN","FB","NFLX","MSFT"],"symbolType":"M-4.56,-0.68H4.56V1.06H-4.56Z","symbolOpacity":0.5,"symbolStrokeColor":"transparent"}}}},
{"mark":{"type":"line","strokeWidth":3,"strokeJoin":"round"},"encoding":{"stroke":{"field":"company","type":"nominal","scale":{"domain":["GOOG","AAPL","AMZN","FB","NFLX","MSFT","~"],"range":["#636efa","#EF553B","#00cc96","#ab63fa","#FFA15A","#19d3f3","#000000"]},"legend":{"title":" ","orient":"none","legendX":662,"legendY":8,"values":["GOOG","AAPL","AMZN","FB","NFLX","MSFT"],"labelExpr":"' '","symbolType":"M-4.56,-0.9H4.56","symbolOpacity":1}}}}
]}
],
"config":{
"font":"DejaVu Sans",
"view":{"fill":"#E5ECF6","stroke":null},
"axis":{"domain":false,"ticks":false,"tickSize":0,"grid":true,"gridColor":"#ffffff","gridWidth":1,"gridOpacity":1,"labelColor":"#2a3f5f","labelFontSize":18,"labelFont":"DejaVu Sans","titleColor":"#2a3f5f","titleFontSize":21,"titleFontWeight":"normal","titleFont":"DejaVu Sans"},
"legend":{"padding":0,"titleFontSize":21,"titleFontWeight":"normal","titleColor":"#2a3f5f","titleFont":"DejaVu Sans","titlePadding":14,"labelFontSize":18,"labelColor":"#2a3f5f","labelFont":"DejaVu Sans","labelOffset":19,"symbolOffset":16.5,"symbolSize":100,"symbolStrokeWidth":3,"rowPadding":6.6}
}
}
